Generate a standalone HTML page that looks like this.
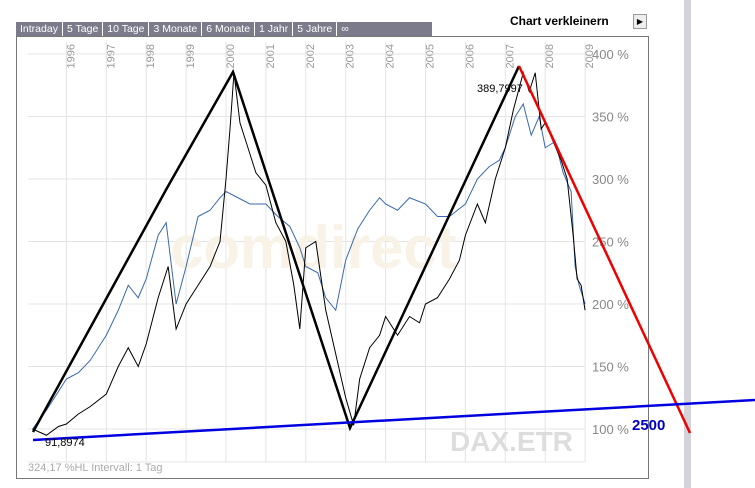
<!DOCTYPE html>
<html><head><meta charset="utf-8"><style>
body{margin:0;width:755px;height:488px;background:#fff;overflow:hidden;font-family:"Liberation Sans",sans-serif;position:relative}
.tabs{position:absolute;left:16px;top:22px;height:15px;width:416px;background:#7b7b8b;display:flex}
.tab{color:#fff;font-size:10.5px;line-height:15px;padding:0 4px;border-right:1px solid #fff}
</style></head><body>
<div class="tabs">
<div class="tab">Intraday</div>
<div class="tab">5 Tage</div>
<div class="tab">10 Tage</div>
<div class="tab">3 Monate</div>
<div class="tab">6 Monate</div>
<div class="tab">1 Jahr</div>
<div class="tab">5 Jahre</div>
<div class="tab" style="border:none">∞</div>
</div>
<div style="position:absolute;left:510px;top:14px;font-size:12px;font-weight:bold;color:#000">Chart verkleinern</div>
<div style="position:absolute;left:633px;top:14px;width:12px;height:13px;border:1px solid #999;background:#eee;font-size:8px;text-align:center;line-height:13px">▶</div>
<div style="position:absolute;left:684px;top:0;width:7px;height:488px;background:#d3d3dc"></div>
<svg id="c" width="755" height="488" style="position:absolute;left:0;top:0"></svg>
<script>
const years=[1996,1997,1998,1999,2000,2001,2002,2003,2004,2005,2006,2007,2008,2009];
const pctTicks=[100,150,200,250,300,350,400];
const blackT=[1995.15,1995.5,1995.8,1996.0,1996.3,1996.6,1997.0,1997.3,1997.55,1997.8,1998.0,1998.3,1998.55,1998.75,1999.0,1999.3,1999.6,1999.85,2000.0,2000.1,2000.2,2000.35,2000.5,2000.75,2001.0,2001.25,2001.5,2001.7,2001.85,2002.0,2002.25,2002.5,2002.75,2003.0,2003.2,2003.35,2003.6,2003.85,2004.0,2004.3,2004.6,2004.85,2005.0,2005.3,2005.6,2005.85,2006.0,2006.3,2006.5,2006.75,2007.0,2007.2,2007.45,2007.6,2007.75,2007.9,2008.0,2008.2,2008.4,2008.55,2008.7,2008.8,2008.9,2009.0];
const blackV=[100,95,102,104,112,118,128,150,165,150,168,205,230,180,200,215,230,250,300,340,385,345,330,305,295,265,250,215,180,245,250,195,160,125,103,140,165,175,190,175,190,185,200,205,220,235,255,280,265,300,325,355,385,370,385,340,345,330,315,300,255,220,215,195];
const blueT=[1995.15,1995.5,1995.8,1996.0,1996.3,1996.6,1997.0,1997.3,1997.55,1997.8,1998.0,1998.3,1998.5,1998.75,1999.0,1999.3,1999.6,1999.85,2000.0,2000.3,2000.6,2001.0,2001.3,2001.6,2001.85,2002.0,2002.3,2002.5,2002.75,2003.0,2003.3,2003.6,2003.85,2004.0,2004.3,2004.6,2005.0,2005.3,2005.6,2006.0,2006.3,2006.6,2006.85,2007.0,2007.25,2007.45,2007.65,2007.85,2008.0,2008.25,2008.45,2008.65,2008.75,2008.85,2009.0];
const blueV=[100,115,130,140,145,155,175,195,215,205,220,255,265,200,230,270,275,285,290,285,280,280,270,262,245,230,225,205,195,235,260,275,285,280,275,285,280,270,270,280,300,310,315,325,350,360,335,350,325,330,305,290,230,215,200];
const svg=document.getElementById('c');const NS='http://www.w3.org/2000/svg';
const X=t=>226+39.9*(t-2000);const Y=p=>54+(400-p)*1.25;
function mk(tag,at,name,txt){const e=document.createElementNS(NS,tag);for(const k in at)e.setAttribute(k,at[k]);


if(txt!==undefined)e.textContent=txt;svg.appendChild(e);return e;}
mk('rect',{x:16.5,y:36.5,width:632,height:442,fill:'none',stroke:'#777'},'chart-frame');
years.forEach(y=>{mk('line',{x1:X(y),x2:X(y),y1:42,y2:462,stroke:'#e4e4e4'},'grid-x');
mk('text',{x:0,y:0,transform:`translate(${X(y)+8},${44}) rotate(-90)`,'text-anchor':'end','font-size':11,fill:'#999'},'year-label',String(y));});
pctTicks.forEach(p=>{mk('line',{x1:28,x2:585,y1:Y(p),y2:Y(p),stroke:'#e4e4e4'},'grid-y');
mk('text',{x:592,y:Y(p)+5,'font-size':13,fill:'#888'},'pct-label',p+' %');});
mk('line',{x1:28,x2:585,y1:462,y2:462,stroke:'#e4e4e4'},'x-baseline');
mk('text',{x:450,y:451,'font-size':28,'font-weight':'bold',fill:'#ddd'},'watermark','DAX.ETR');
mk('text',{x:170,y:268,'font-size':60,'font-weight':'bold',fill:'#f8f3e6'},'comdirect-watermark','comdirect');
function poly(T,V,col,name){mk('polyline',{points:T.map((t,i)=>X(t)+','+Y(V[i])).join(' '),fill:'none',stroke:col,'stroke-width':1},name);}
poly(blueT,blueV,'#3a68b0','series-blue');
poly(blackT,blackV,'#000','series-black');
mk('polyline',{points:'33,432 167,188 233,72 350,428 519,66',fill:'none',stroke:'#000','stroke-width':2.5},'trend-lines');
mk('line',{x1:519,y1:66,x2:690,y2:433,stroke:'#e00','stroke-width':2.5},'red-trendline');
mk('line',{x1:33,y1:440,x2:755,y2:400,stroke:'#0000e0','stroke-width':2.5},'blue-support-line');
mk('text',{x:632,y:430,'font-size':15,'font-weight':'bold',fill:'#0000c0'},'label-2500','2500');
mk('text',{x:477,y:92,'font-size':11,fill:'#000'},'max-label','389,7997');
mk('text',{x:45,y:446,'font-size':11,fill:'#000'},'min-label','91,8974');
mk('text',{x:28,y:471,'font-size':11,fill:'#aaa'},'footer-info','324,17 %HL    Intervall: 1 Tag');
</script>
</body></html>
